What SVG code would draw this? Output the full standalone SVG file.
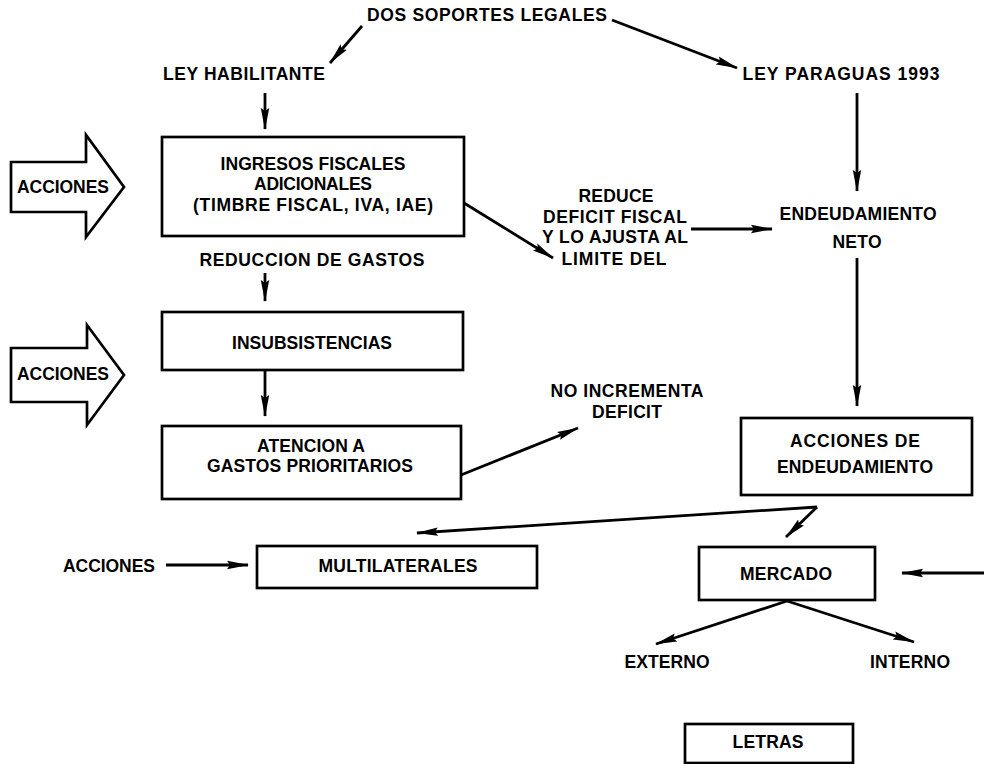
<svg xmlns="http://www.w3.org/2000/svg" width="984" height="764" viewBox="0 0 984 764">
<defs>
<marker id="ah" markerUnits="userSpaceOnUse" markerWidth="22" markerHeight="10" refX="21" refY="5" orient="auto">
<path d="M0,0.8 L22,5 L0,9.2 L3,5 z" fill="#000"/>
</marker>
<style>
text{font-family:"Liberation Sans",Arial,sans-serif;font-weight:bold;font-size:17.5px;fill:#000;text-anchor:middle}
.box{fill:#fff;stroke:#000;stroke-width:2.7}
.big{fill:#fff;stroke:#000;stroke-width:2.7;stroke-linejoin:miter}
#connectors line{stroke:#000;stroke-width:2.8;marker-end:url(#ah)}
</style>
</defs>
<rect width="984" height="764" fill="#fff"/>

<g id="connectors">
<line x1="362" y1="26" x2="330" y2="63"/>
<line x1="612" y1="20" x2="737" y2="68"/>
<line x1="265" y1="93" x2="265" y2="129"/>
<line x1="857" y1="93" x2="857" y2="191"/>
<line x1="464" y1="203" x2="553" y2="258"/>
<line x1="691" y1="229" x2="772" y2="229"/>
<line x1="265" y1="273" x2="265" y2="301"/>
<line x1="265" y1="371" x2="265" y2="416"/>
<line x1="461" y1="475" x2="578" y2="428"/>
<line x1="857" y1="258" x2="857" y2="406"/>
<line x1="817" y1="507" x2="417" y2="533"/>
<line x1="817" y1="507" x2="786" y2="537"/>
<line x1="166" y1="565" x2="248" y2="565"/>
<line x1="984" y1="573" x2="902" y2="573"/>
<line x1="787" y1="601" x2="656" y2="644"/>
<line x1="787" y1="601" x2="914" y2="642"/>
</g>

<g id="dos-soportes"><text x="487" y="21" textLength="240" lengthAdjust="spacing">DOS SOPORTES LEGALES</text></g>
<g id="ley-habilitante"><text x="244" y="80" textLength="162" lengthAdjust="spacing">LEY HABILITANTE</text></g>
<g id="ley-paraguas"><text x="841" y="80" textLength="197" lengthAdjust="spacing">LEY PARAGUAS 1993</text></g>

<g id="ingresos">
<rect class="box" x="162" y="137" width="302" height="99"/>
<text x="313" y="170" textLength="185" lengthAdjust="spacing">INGRESOS FISCALES</text>
<text x="313" y="190" textLength="118" lengthAdjust="spacing">ADICIONALES</text>
<text x="313" y="211" textLength="240" lengthAdjust="spacing">(TIMBRE FISCAL, IVA, IAE)</text>
</g>

<g id="acciones1">
<polygon class="big" points="11,162 86,162 86,135 124,187 86,237 86,212 11,212"/>
<text x="63" y="193" textLength="92" lengthAdjust="spacing">ACCIONES</text>
</g>

<g id="reduccion"><text x="312" y="266" textLength="225" lengthAdjust="spacing">REDUCCION DE GASTOS</text></g>

<g id="insubsistencias">
<rect class="box" x="162" y="312" width="301" height="58"/>
<text x="312" y="349" textLength="160" lengthAdjust="spacing">INSUBSISTENCIAS</text>
</g>

<g id="acciones2">
<polygon class="big" points="11,348 87,348 87,325 124,375 87,425 87,402 11,402"/>
<text x="63" y="380" textLength="92" lengthAdjust="spacing">ACCIONES</text>
</g>

<g id="atencion">
<rect class="box" x="162" y="426" width="299" height="73"/>
<text x="311" y="452" textLength="108" lengthAdjust="spacing">ATENCION A</text>
<text x="310" y="472" textLength="206" lengthAdjust="spacing">GASTOS PRIORITARIOS</text>
</g>

<g id="reduce-deficit">
<text x="616" y="202" textLength="75" lengthAdjust="spacing">REDUCE</text>
<text x="615" y="223" textLength="144" lengthAdjust="spacing">DEFICIT FISCAL</text>
<text x="615" y="243" textLength="146" lengthAdjust="spacing">Y LO AJUSTA AL</text>
<text x="614" y="265" textLength="105" lengthAdjust="spacing">LIMITE DEL</text>
</g>

<g id="endeudamiento-neto">
<text x="858" y="220" textLength="157" lengthAdjust="spacing">ENDEUDAMIENTO</text>
<text x="857" y="248" textLength="49" lengthAdjust="spacing">NETO</text>
</g>

<g id="no-incrementa">
<text x="627" y="397" textLength="153" lengthAdjust="spacing">NO INCREMENTA</text>
<text x="627" y="418" textLength="70" lengthAdjust="spacing">DEFICIT</text>
</g>

<g id="acciones-endeudamiento">
<rect class="box" x="741" y="418" width="231" height="77"/>
<text x="855" y="447" textLength="130" lengthAdjust="spacing">ACCIONES DE</text>
<text x="855" y="473" textLength="156" lengthAdjust="spacing">ENDEUDAMIENTO</text>
</g>

<g id="acciones3"><text x="109" y="572" textLength="92" lengthAdjust="spacing">ACCIONES</text></g>

<g id="multilaterales">
<rect class="box" x="257" y="546" width="280" height="42"/>
<text x="398" y="572" textLength="159" lengthAdjust="spacing">MULTILATERALES</text>
</g>

<g id="mercado">
<rect class="box" x="699" y="547" width="176" height="53"/>
<text x="786" y="580" textLength="92" lengthAdjust="spacing">MERCADO</text>
</g>

<g id="externo"><text x="667" y="668" textLength="85" lengthAdjust="spacing">EXTERNO</text></g>
<g id="interno"><text x="910" y="668" textLength="80" lengthAdjust="spacing">INTERNO</text></g>

<g id="letras">
<rect class="box" x="685" y="724" width="168" height="39"/>
<text x="768" y="748" textLength="71" lengthAdjust="spacing">LETRAS</text>
</g>
</svg>
